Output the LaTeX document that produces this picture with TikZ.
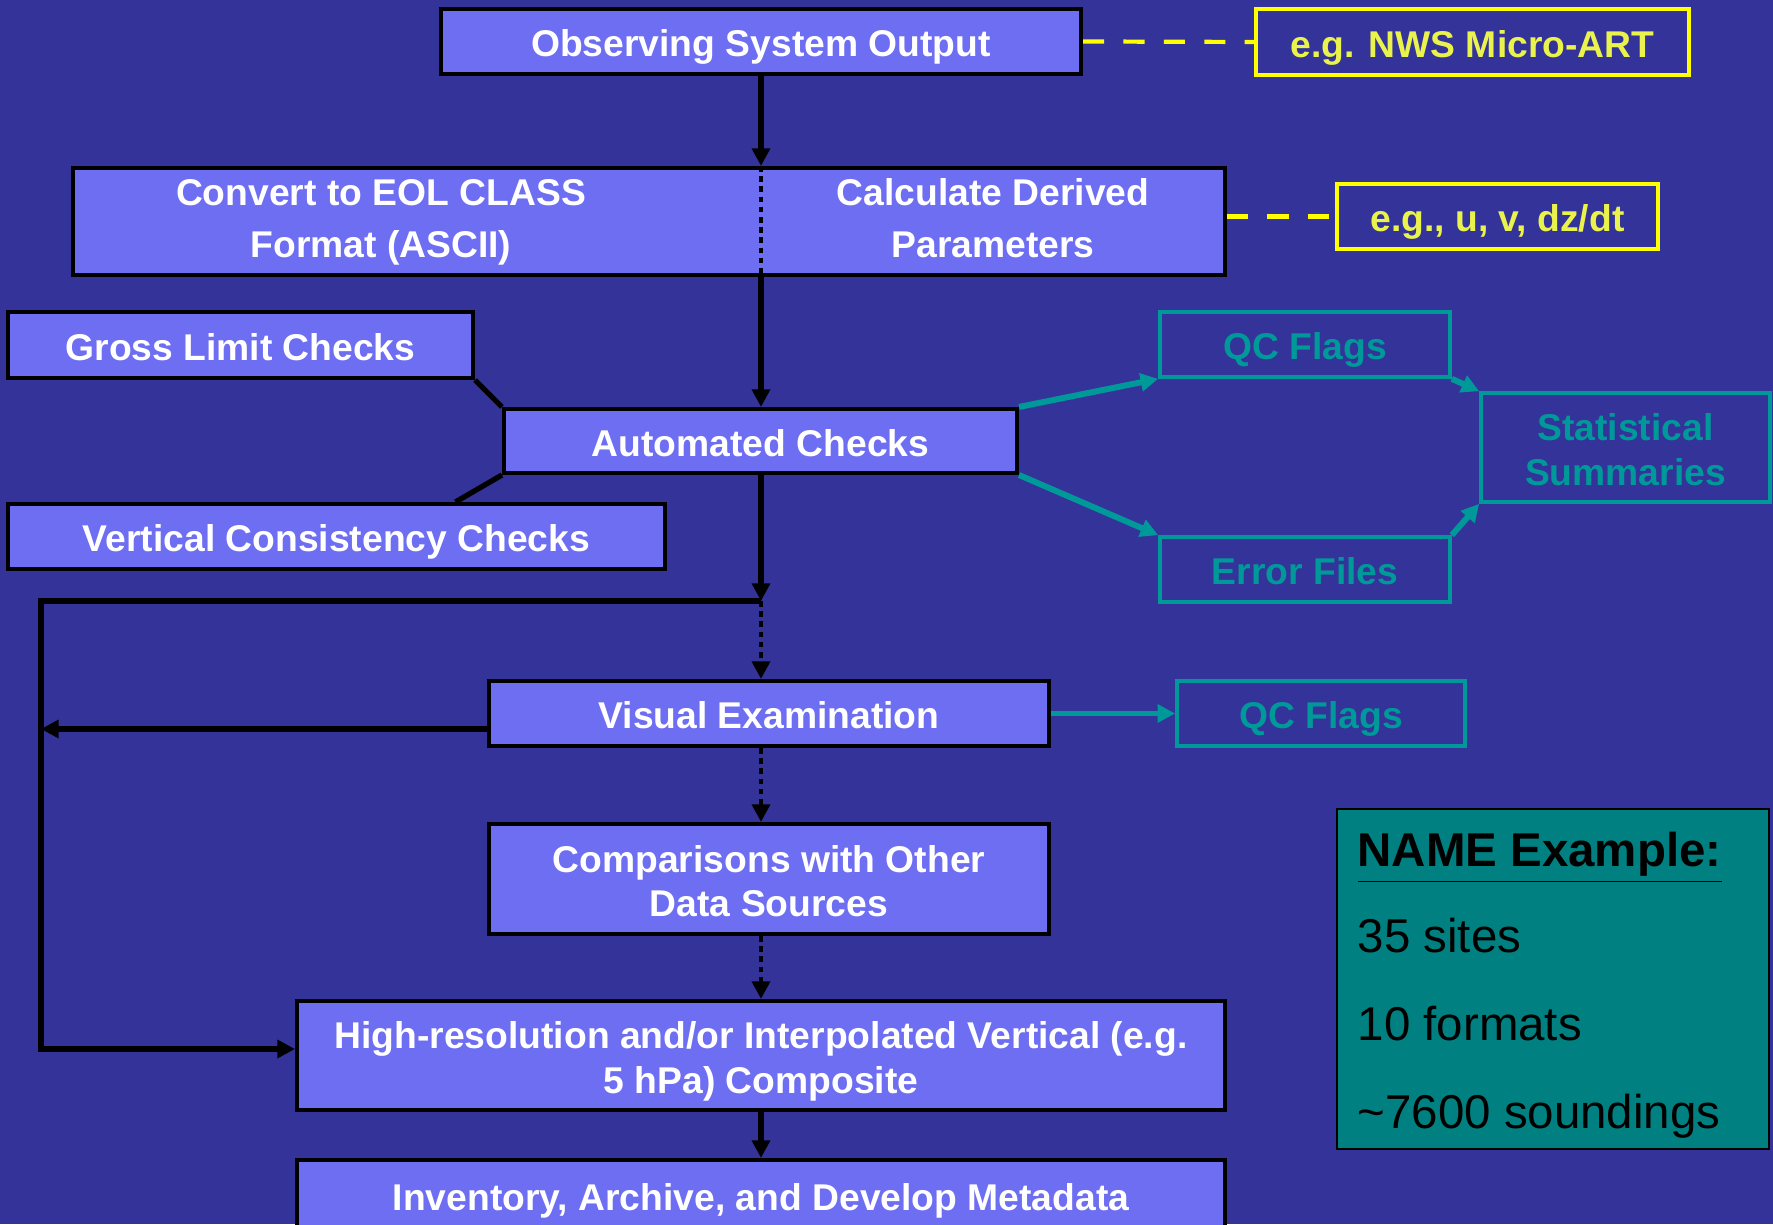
\documentclass[tikz,border=0pt]{standalone}
\usepackage{fontspec}
\setmainfont{Liberation Sans}
\usetikzlibrary{positioning,arrows.meta,calc}
\definecolor{bgBlue}{HTML}{333399}
\definecolor{boxBlue}{HTML}{6E6EF2}
\definecolor{qcTeal}{HTML}{009999}
\definecolor{noteTeal}{HTML}{008080}
\definecolor{hintYellow}{HTML}{FFFF00}
\definecolor{hintText}{HTML}{EAF24C}

\tikzset{
  boxfont/.style={font=\bfseries\fontsize{10.6}{12.6}\selectfont, align=center, inner sep=0pt},
  oneline/.style={text height=8.8pt, text depth=0pt},
  twoline/.style={text height=21.4pt, text depth=0pt},
  stepbox/.style={boxfont, draw=black, line width=1.15pt, fill=boxBlue, text=white},
  steptext/.style={text=white, align=center, inner sep=0pt, font=\bfseries\fontsize{10.6}{14.8}\selectfont,
    text height=23.6pt, text depth=0pt},
  outbox/.style={boxfont, draw=qcTeal, line width=1.05pt, text=qcTeal},
  hintbox/.style={boxfont, draw=hintYellow, line width=1.05pt, text=hintText},
  notebox/.style={draw=black, line width=0.6pt, fill=noteTeal},
  notetext/.style={text=black, inner sep=0pt, font=\fontsize{13.5}{16}\selectfont},
  flow/.style={line width=1.7pt, -{Triangle[length=5pt,width=5pt]}},
  dotflow/.style={line width=1.4pt, dash pattern=on 1.6pt off 1.3pt, -{Triangle[length=5pt,width=5pt]}},
  tealflow/.style={qcTeal, line width=1.7pt, -{Triangle[length=5pt,width=5pt]}},
  hintline/.style={hintYellow, line width=1.2pt, dash pattern=on 6pt off 5.5pt},
}

\begin{document}
\begin{tikzpicture}
  \fill[bgBlue] (0,0) rectangle (17.73,12.24);
  \useasboundingbox (0,0) rectangle (17.73,12.24);

  % main chain
  \node[stepbox, oneline, minimum width=6.40cm, minimum height=0.65cm] (obs) at (7.61,11.825) {Observing System Output};
  \node[stepbox, minimum width=11.52cm, minimum height=1.07cm] (conv) at (6.49,10.025) {};
  \node[steptext] (convtxt) at (3.81,10.08) {Convert to EOL CLASS\\Format (ASCII)};
  \node[steptext] (calctxt) at (9.93,10.08) {Calculate Derived\\Parameters};
  \node[stepbox, oneline, minimum width=5.13cm, minimum height=0.64cm] (auto) at (7.605,7.83) {Automated Checks};
  \node[stepbox, oneline, minimum width=4.65cm, minimum height=0.66cm] (gross) at (2.405,8.79) {Gross Limit Checks};
  \node[stepbox, oneline, minimum width=6.57cm, minimum height=0.65cm] (vcc) at (3.365,6.875) {Vertical Consistency Checks};
  \node[stepbox, oneline, minimum width=5.60cm, minimum height=0.65cm] (vis) at (7.69,5.105) {Visual Examination};
  \node[stepbox, twoline, minimum width=5.60cm, minimum height=1.10cm] (comp) at (7.69,3.45) {Comparisons with Other\\Data Sources};
  \node[stepbox, twoline, minimum width=9.28cm, minimum height=1.09cm] (hires) at (7.61,1.685) {High-resolution and/or Interpolated Vertical (e.g.\\5 hPa) Composite};
  \node[stepbox, oneline, minimum width=9.28cm, minimum height=0.70cm] (inv) at (7.61,0.29) {Inventory, Archive, and Develop Metadata};

  % side notes
  \node[hintbox, oneline, minimum width=4.33cm, minimum height=0.66cm] (nws) at (14.725,11.82) {e.g. NWS Micro-ART};
  \node[hintbox, oneline, minimum width=3.21cm, minimum height=0.65cm] (uv) at (14.975,10.075) {e.g., u, v, dz/dt};

  % outputs
  \node[outbox, oneline, minimum width=2.90cm, minimum height=0.65cm] (qc1) at (13.05,8.795) {QC Flags};
  \node[outbox, oneline, minimum width=2.90cm, minimum height=0.65cm] (err) at (13.05,6.545) {Error Files};
  \node[outbox, twoline, minimum width=2.89cm, minimum height=1.09cm] (stat) at (16.255,7.765) {Statistical\\Summaries};
  \node[outbox, oneline, minimum width=2.88cm, minimum height=0.65cm] (qc2) at (13.21,5.105) {QC Flags};

  % example box
  \node[notebox, minimum width=4.32cm, minimum height=3.40cm] (note) at (15.53,2.45) {};
  \node[notetext, font=\bfseries\fontsize{13.5}{16}\selectfont, anchor=base west] (notehead) at (13.57,3.57) {\underline{NAME Example:}};
  \node[notetext, anchor=base west] (sites) at (13.57,2.71) {35 sites};
  \node[notetext, anchor=base west] (formats) at (13.57,1.83) {10 formats};
  \node[notetext, anchor=base west] (sounds) at (13.57,0.96) {\textasciitilde 7600 soundings};

  % connectors
  \coordinate (split) at (7.61,6.23);
  \coordinate (loop) at (0.41,6.23);
  \coordinate (hiresin) at ([yshift=0.065cm]hires.west);
  \draw[flow] (obs.south) -- (obs.south |- conv.north);
  \draw[line width=1.4pt, dash pattern=on 1.6pt off 1.3pt] (conv.north -| obs) -- (conv.south -| obs);
  \draw[flow] (conv.south -| obs) -- (auto.north -| obs);
  \draw[line width=1.5pt] (gross.south east) -- (auto.north west);
  \draw[line width=1.5pt] (auto.south west) -- ($(vcc.north west)!0.68!(vcc.north east)$);
  \draw[flow] (auto.south -| obs) -- (split);
  \draw[flow] (split) -- (loop) -- (loop |- hiresin) -- (hiresin);
  \draw[dotflow] (split) -- (vis.north -| split);
  \draw[flow] ([yshift=-0.155cm]vis.west) -- ([yshift=-0.155cm]vis.west -| loop);
  \draw[dotflow] (vis.south -| split) -- (comp.north -| split);
  \draw[dotflow] (comp.south -| split) -- (hires.north -| split);
  \draw[flow] (hires.south -| split) -- (inv.north -| split);

  \draw[tealflow] (auto.north east) -- (qc1.south west);
  \draw[tealflow] (auto.south east) -- (err.north west);
  \draw[tealflow] (qc1.south east) -- (stat.north west);
  \draw[tealflow] (err.north east) -- (stat.south west);
  \draw[tealflow] (vis.east) -- (qc2.west);

  \draw[hintline] (obs.east) -- (nws.west);
  \draw[hintline] (conv.east |- uv) -- (uv.west);
\end{tikzpicture}
\end{document}
